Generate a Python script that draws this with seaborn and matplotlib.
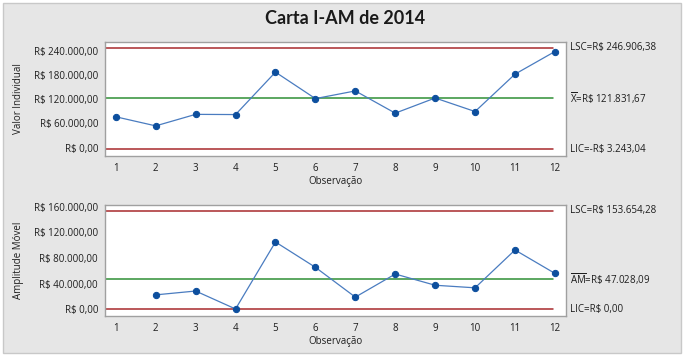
import numpy as np
import matplotlib
matplotlib.use('Agg')
import matplotlib.pyplot as plt
import matplotlib.transforms as mtransforms
from matplotlib.patches import Rectangle
import seaborn as sns

# Dados da carta I-AM
observacoes = [1, 2, 3, 4, 5, 6, 7, 8, 9, 10, 11, 12]
valor_individual = [76500, 54000, 82500, 82000, 187000, 121500,
                    140500, 85500, 123000, 89500, 182000, 238000]
obs_am = [2, 3, 4, 5, 6, 7, 8, 9, 10, 11, 12]
amplitude_movel = [22500, 28500, 500, 105000, 65500, 19000,
                   55000, 37500, 33500, 92500, 56000]

# Limites de controle
i_lsc, i_media, i_lic = 246906.38, 121831.67, -3243.04
am_lsc, am_media, am_lic = 153654.28, 47028.09, 0.0
i_lsc_txt, i_media_txt, i_lic_txt = '246.906,38', '121.831,67', '-R$ 3.243,04'
am_lsc_txt, am_media_txt, am_lic_txt = '153.654,28', '47.028,09', 'R$ 0,00'

i_ticks = [0, 60000, 120000, 180000, 240000]
i_ticklabels = ['R$ 0,00', 'R$ 60.000,00', 'R$ 120.000,00', 'R$ 180.000,00', 'R$ 240.000,00']
am_ticks = [0, 40000, 80000, 120000, 160000]
am_ticklabels = ['R$ 0,00', 'R$ 40.000,00', 'R$ 80.000,00', 'R$ 120.000,00', 'R$ 160.000,00']

sns.set_style('white')
plt.rcParams['font.family'] = ['Open Sans', 'DejaVu Sans']
plt.rcParams['mathtext.fontset'] = 'custom'
plt.rcParams['mathtext.rm'] = 'Open Sans'
plt.rcParams['mathtext.default'] = 'regular'

W, H = 690, 357
fig = plt.figure(figsize=(W / 100, H / 100), dpi=100, facecolor='white')
fig.patches.append(Rectangle((3 / W, 4 / H), 678 / W, 350 / H, transform=fig.transFigure,
                             facecolor='#e6e6e6', edgecolor='#c8c8c8', lw=1, zorder=-10))

ax1 = fig.add_axes([105 / W, 1 - 155.7 / H, 460.7 / W, 114 / H])
ax2 = fig.add_axes([105 / W, 1 - 315.7 / H, 460.7 / W, 110.7 / H])

azul_linha = '#4a7cc0'
azul_ponto = '#0d4f9e'
vermelho = '#a8292c'
verde = '#2f8f36'
cinza_txt = '#1e1e1e'


def desenha(ax, x, y, lsc, media, lic, ylim, ticks, ticklabels, ylabel):
    ax.set_facecolor('white')
    ax.axhline(lsc, xmin=0.003, xmax=0.972, color=vermelho, lw=1.1, zorder=1)
    ax.axhline(lic, xmin=0.003, xmax=0.972, color=vermelho, lw=1.1, zorder=1)
    ax.axhline(media, xmin=0.003, xmax=0.972, color=verde, lw=1.1, zorder=1)
    sns.lineplot(x=x, y=y, ax=ax, color=azul_linha, lw=0.9, marker='o',
                 markersize=4.5, markerfacecolor=azul_ponto, markeredgecolor=azul_ponto,
                 zorder=3)
    ax.set_xlim(0.73, 12.27)
    ax.set_ylim(*ylim)
    ax.set_xticks(observacoes)
    ax.set_xticklabels([str(o) for o in observacoes])
    ax.set_yticks(ticks)
    ax.set_yticklabels(ticklabels)
    ax.tick_params(axis='both', labelsize=7, colors=cinza_txt, length=3, width=0.8,
                   direction='out', pad=2)
    ax.tick_params(axis='both', color='#909090')
    for s in ax.spines.values():
        s.set_color('#a0a0a0')
        s.set_linewidth(1.0)
    ax.set_xlabel('Observação', fontsize=7, color=cinza_txt, labelpad=2)
    ax.set_ylabel(ylabel, fontsize=7, color=cinza_txt, labelpad=4)
    ax.yaxis.set_label_coords(-0.176, 0.5)
    ax.grid(False)


desenha(ax1, observacoes, valor_individual, i_lsc, i_media, i_lic,
        (-19800, 262300), i_ticks, i_ticklabels, 'Valor Individual')
desenha(ax2, obs_am, amplitude_movel, am_lsc, am_media, am_lic,
        (-10000, 162700), am_ticks, am_ticklabels, 'Amplitude Móvel')

tr1 = mtransforms.blended_transform_factory(ax1.transAxes, ax1.transData)
tr2 = mtransforms.blended_transform_factory(ax2.transAxes, ax2.transData)
kw = dict(fontsize=7, color=cinza_txt, va='center', ha='left')
ax1.text(1.009, i_lsc, 'LSC=R$ ' + i_lsc_txt, transform=tr1, **kw)
ax1.text(1.009, i_media, r'$\overline{X}$=R\$ ' + i_media_txt, transform=tr1, **kw)
ax1.text(1.009, i_lic, 'LIC=' + i_lic_txt, transform=tr1, **kw)
ax2.text(1.009, am_lsc, 'LSC=R$ ' + am_lsc_txt, transform=tr2, **kw)
ax2.text(1.009, am_media, r'$\overline{AM}$=R\$ ' + am_media_txt, transform=tr2, **kw)
ax2.text(1.009, am_lic, 'LIC=' + am_lic_txt, transform=tr2, **kw)

fig.text(345 / W, 1 - 18 / H, 'Carta I-AM de 2014', fontsize=13, fontweight='bold',
         family=['Lato', 'DejaVu Sans'], color='#1a1a1a', ha='center', va='center')

fig.savefig('out.png', dpi=100, facecolor=fig.get_facecolor())
